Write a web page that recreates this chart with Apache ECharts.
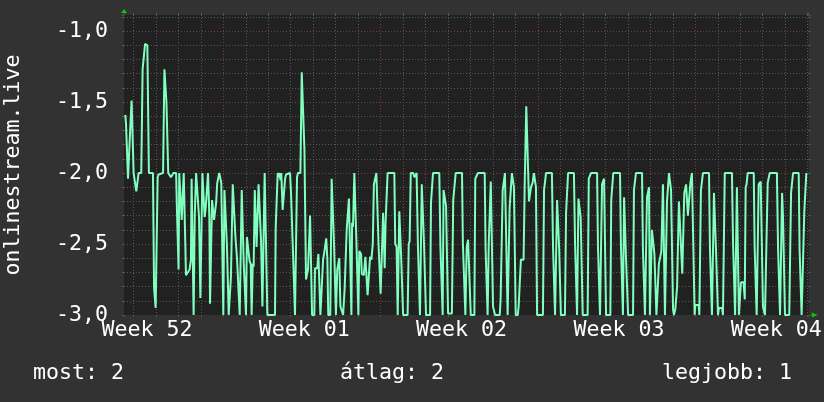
<!DOCTYPE html>
<html><head><meta charset="utf-8">
<script src="https://cdn.jsdelivr.net/npm/echarts@6/dist/echarts.min.js"></script>
<style>html,body{margin:0;padding:0;background:#323232;}#c{width:824px;height:402px;}</style>
</head><body><div id="c"></div>
<script>
// ---- data (day offset from start of Week 01, value) ----
const weekLabels = ['Week 52', 'Week 01', 'Week 02', 'Week 03', 'Week 04'];
const weekLabelDays = [-3.4, 3.6, 10.6, 17.6, 24.6];
const axisTitle = 'onlinestream.live';
const statNames = ['most', 'átlag', 'legjobb'];
const statValues = [2, 2, 1];

const week52 = [[-4.36,-1.59],[-4.33,-1.65],[-4.27,-1.66],[-4.24,-2.04],[-4.18,-2.04],[-4.15,-1.72],[-4.11,-1.72],[-4.08,-1.49],[-4.02,-1.49],[-3.99,-2.00],[-3.91,-2.00],[-3.87,-2.13],[-3.80,-2.13],[-3.77,-2.00],[-3.65,-2.00],[-3.59,-1.27],[-3.53,-1.26],[-3.48,-1.09],[-3.42,-1.09],[-3.38,-1.10],[-3.34,-1.10],[-3.31,-2.00],[-3.13,-2.00],[-3.08,-2.81],[-3.04,-2.82],[-3.01,-2.95],[-2.95,-2.95],[-2.92,-2.03],[-2.88,-2.01],[-2.68,-2.00],[-2.62,-1.27],[-2.56,-1.27],[-2.53,-1.50],[-2.48,-1.50],[-2.45,-2.00],[-2.40,-2.00],[-2.33,-2.03],[-2.28,-2.03],[-2.22,-2.00],[-2.10,-2.00],[-2.06,-2.27],[-2.02,-2.27],[-1.99,-2.68],[-1.96,-2.00],[-1.90,-2.00],[-1.85,-2.33],[-1.79,-2.33],[-1.76,-2.00],[-1.70,-2.00],[-1.66,-2.72],[-1.59,-2.72],[-1.50,-2.68],[-1.44,-2.61],[-1.41,-2.04],[-1.36,-2.04],[-1.32,-3.00],[-1.27,-2.30],[-1.21,-2.00],[-1.13,-2.00],[-1.08,-2.31],[-1.02,-2.88],[-0.96,-2.88],[-0.93,-2.00],[-0.86,-2.00],[-0.83,-2.31],[-0.78,-2.24],[-0.73,-2.24],[-0.68,-2.00],[-0.65,-2.00],[-0.62,-2.31],[-0.59,-2.92],[-0.53,-2.92],[-0.50,-2.19],[-0.46,-2.19],[-0.41,-2.33],[-0.37,-2.33],[-0.32,-2.21],[-0.27,-2.07],[-0.18,-2.00],[-0.09,-2.07],[-0.06,-2.38]];

const week01 = [[0.00,-3.00],[0.05,-2.12],[0.12,-2.12],[0.16,-2.50],[0.21,-2.50],[0.24,-3.00],[0.31,-3.00],[0.34,-2.73],[0.39,-2.73],[0.42,-2.08],[0.49,-2.08],[0.54,-2.45],[0.61,-2.60],[0.68,-2.60],[0.73,-3.00],[0.77,-3.00],[0.82,-2.12],[0.88,-2.12],[0.91,-2.64],[0.97,-2.64],[1.01,-3.00],[1.05,-2.45],[1.13,-2.45],[1.17,-2.62],[1.22,-2.64],[1.26,-3.00],[1.31,-2.64],[1.35,-2.66],[1.40,-2.12],[1.45,-2.12],[1.48,-2.52],[1.53,-2.52],[1.57,-2.08],[1.63,-2.08],[1.68,-2.48],[1.74,-2.94],[1.81,-2.94],[1.84,-2.00],[1.91,-2.00],[1.96,-3.00],[2.30,-3.00],[2.33,-2.39],[2.37,-2.39],[2.42,-2.00],[2.46,-2.03],[2.51,-2.00],[2.54,-2.05],[2.58,-2.00],[2.64,-2.26],[2.70,-2.26],[2.75,-2.04],[2.79,-2.01],[2.83,-2.00],[2.97,-2.00],[3.01,-2.13],[3.06,-2.13],[3.12,-2.65],[3.16,-2.65],[3.19,-3.00],[3.25,-3.00],[3.28,-2.03],[3.32,-2.00],[3.43,-2.00],[3.49,-1.29],[3.56,-1.29],[3.61,-1.84],[3.65,-1.84],[3.68,-2.75],[3.74,-2.75],[3.77,-2.68],[3.81,-2.68],[3.86,-2.30],[3.92,-2.30],[3.95,-3.00],[4.05,-3.00],[4.08,-2.67],[4.18,-2.67],[4.23,-2.57],[4.29,-2.57],[4.32,-3.00],[4.39,-3.00],[4.44,-2.61],[4.51,-2.54],[4.58,-2.46],[4.63,-2.61],[4.67,-3.00],[4.76,-3.00],[4.82,-2.04],[4.88,-2.04],[4.93,-2.52],[4.97,-2.52],[5.01,-3.00],[5.07,-2.68],[5.12,-2.68],[5.16,-2.60],[5.21,-2.94],[5.28,-2.95],[5.33,-3.00],[5.40,-2.81],[5.46,-2.80],[5.49,-2.40],[5.55,-2.40],[5.59,-2.18],[5.67,-2.18],[5.70,-3.00],[5.73,-2.35],[5.77,-2.38],[5.83,-2.00],[5.87,-2.00],[5.92,-2.47],[5.96,-2.48],[6.01,-3.00],[6.05,-2.55],[6.13,-2.57],[6.16,-2.71],[6.25,-2.72],[6.29,-2.71],[6.32,-2.59],[6.38,-2.59],[6.42,-2.86],[6.48,-2.86],[6.53,-2.59],[6.59,-2.61],[6.65,-2.50],[6.70,-2.08],[6.76,-2.07],[6.81,-2.00],[6.87,-2.00],[6.91,-2.52],[6.96,-2.52]];

const week02 = [[7.00,-2.85],[7.06,-2.85],[7.11,-2.28],[7.15,-2.28],[7.18,-2.67],[7.22,-2.35],[7.27,-2.35],[7.31,-2.00],[7.61,-2.00],[7.65,-2.50],[7.71,-2.52],[7.76,-3.00],[7.80,-3.00],[7.83,-2.27],[7.88,-2.27],[7.91,-2.58],[7.95,-2.58],[8.00,-3.00],[8.20,-3.00],[8.25,-2.50],[8.29,-2.48],[8.34,-2.00],[8.45,-2.00],[8.50,-2.03],[8.56,-2.03],[8.60,-2.00],[8.63,-2.00],[8.66,-2.52],[8.71,-2.52],[8.75,-3.00],[8.80,-3.00],[8.83,-2.08],[8.88,-2.08],[8.93,-2.50],[8.97,-2.50],[9.02,-3.00],[9.20,-3.00],[9.24,-2.21],[9.29,-2.21],[9.33,-2.00],[9.61,-2.00],[9.66,-2.52],[9.72,-2.52],[9.76,-3.00],[9.80,-2.12],[9.86,-2.12],[9.91,-2.23],[9.95,-2.23],[10.00,-2.99],[10.17,-2.99],[10.23,-2.19],[10.28,-2.19],[10.34,-2.00],[10.62,-2.00],[10.66,-2.50],[10.72,-2.50],[10.77,-3.00],[10.83,-2.52],[10.89,-2.47],[10.96,-2.47],[11.01,-3.00],[11.17,-3.00],[11.21,-2.04],[11.27,-2.04],[11.33,-2.00],[11.63,-2.00],[11.67,-2.54],[11.72,-2.54],[11.76,-3.00],[11.81,-2.50],[11.85,-2.50],[11.90,-2.06],[11.95,-2.06],[12.00,-2.94],[12.04,-2.94],[12.09,-3.00],[12.30,-3.00],[12.34,-2.88],[12.38,-2.88],[12.43,-2.12],[12.49,-2.12],[12.53,-2.00],[12.61,-2.00],[12.65,-3.00],[12.70,-3.00],[12.74,-2.24],[12.80,-2.24],[12.84,-2.00],[12.89,-2.00],[12.93,-2.10],[12.96,-2.10],[13.01,-3.00],[13.10,-3.00],[13.14,-2.94],[13.24,-2.61],[13.36,-2.61],[13.41,-2.08],[13.45,-2.08],[13.48,-1.53],[13.56,-1.53],[13.60,-2.20],[13.65,-2.20],[13.69,-2.10],[13.76,-2.07],[13.82,-2.00],[13.87,-2.00],[13.91,-2.10],[13.96,-3.00]];

const week03 = [[14.22,-3.00],[14.27,-2.12],[14.31,-2.12],[14.36,-2.00],[14.62,-2.00],[14.67,-2.52],[14.71,-2.52],[14.76,-3.00],[14.80,-3.00],[14.85,-2.19],[14.89,-2.19],[14.94,-2.52],[14.98,-2.52],[15.02,-3.00],[15.20,-3.00],[15.25,-2.28],[15.29,-2.28],[15.34,-2.00],[15.60,-2.00],[15.65,-2.50],[15.69,-2.50],[15.74,-3.00],[15.80,-2.18],[15.85,-2.18],[15.90,-2.31],[15.94,-2.31],[15.99,-3.00],[16.21,-3.00],[16.26,-2.04],[16.30,-2.04],[16.36,-2.00],[16.63,-2.00],[16.67,-2.52],[16.71,-2.52],[16.76,-3.00],[16.80,-3.00],[16.85,-2.08],[16.89,-2.08],[16.94,-2.04],[16.98,-2.04],[17.03,-3.00],[17.22,-3.00],[17.26,-2.19],[17.31,-2.19],[17.35,-2.00],[17.65,-2.00],[17.69,-2.50],[17.74,-2.50],[17.78,-3.00],[17.83,-2.17],[17.87,-2.17],[17.92,-2.61],[17.96,-2.61],[18.01,-3.00],[18.23,-3.00],[18.27,-2.12],[18.32,-2.12],[18.36,-2.00],[18.63,-2.00],[18.67,-2.54],[18.72,-2.54],[18.76,-3.00],[18.81,-3.00],[18.85,-2.17],[18.90,-2.17],[18.94,-2.10],[18.98,-3.00],[19.03,-3.00],[19.07,-2.40],[19.13,-2.40],[19.18,-2.57],[19.22,-2.57],[19.27,-3.00],[19.34,-3.00],[19.38,-2.64],[19.43,-2.64],[19.49,-2.55],[19.56,-2.08],[19.61,-2.08],[19.65,-3.00],[19.70,-3.00],[19.74,-2.20],[19.79,-2.19],[19.83,-2.00],[19.87,-2.00],[19.92,-2.12],[19.96,-2.12],[20.01,-2.96],[20.05,-3.00],[20.11,-2.96],[20.19,-2.80],[20.23,-2.79],[20.27,-2.20],[20.35,-2.20],[20.42,-2.71],[20.47,-2.71],[20.51,-2.14],[20.59,-2.08],[20.65,-2.08],[20.67,-2.30],[20.73,-2.30],[20.78,-2.07],[20.85,-2.00],[20.90,-2.00],[20.97,-3.00]];

const week04 = [[21.00,-2.93],[21.15,-2.93],[21.18,-3.00],[21.21,-3.00],[21.25,-2.12],[21.30,-2.12],[21.34,-2.00],[21.61,-2.00],[21.65,-2.52],[21.70,-2.52],[21.74,-3.00],[21.79,-3.00],[21.83,-2.14],[21.88,-2.14],[21.92,-2.54],[21.96,-2.54],[22.01,-3.00],[22.05,-2.95],[22.19,-2.95],[22.23,-3.00],[22.26,-3.00],[22.31,-2.00],[22.63,-2.00],[22.68,-2.50],[22.72,-2.50],[22.77,-3.00],[22.81,-3.00],[22.85,-2.10],[22.90,-2.10],[22.94,-3.00],[22.99,-3.00],[23.03,-2.77],[23.15,-2.77],[23.20,-2.89],[23.24,-2.10],[23.28,-2.08],[23.33,-2.00],[23.60,-2.00],[23.64,-2.52],[23.69,-2.52],[23.73,-3.00],[23.77,-3.00],[23.82,-2.08],[23.86,-2.08],[23.91,-2.06],[23.97,-2.06],[24.01,-2.94],[24.06,-2.94],[24.10,-3.00],[24.17,-3.00],[24.22,-2.07],[24.26,-2.07],[24.31,-2.00],[24.63,-2.00],[24.68,-2.52],[24.72,-2.52],[24.77,-3.00],[24.81,-3.00],[24.86,-2.14],[24.90,-2.30],[24.95,-2.30],[24.99,-3.00],[25.18,-3.00],[25.26,-2.14],[25.30,-2.14],[25.35,-2.00],[25.60,-2.00],[25.64,-2.54],[25.69,-2.54],[25.73,-3.00],[25.81,-3.00],[25.85,-2.27],[25.90,-2.26],[25.94,-2.00],[25.97,-2.00]];

// ---- chart ----
const readings = [].concat(week52, week01, week02, week03, week04);
const DAY_MIN = -4.418, DAY_MAX = 26.045, V_MIN = -3, V_MAX = -0.887;
const FONT = 'DejaVu Sans Mono';
const FS = 21.6;
const GRID_GREY = '#585858', GRID_RED = '#7a3c3c', ARROW = '#00cc00';

function hiddenX(extra) {
  return Object.assign({
    type: 'value', gridIndex: 0, min: DAY_MIN, max: DAY_MAX,
    axisLine: { show: false, onZero: false }, axisTick: { show: false },
    axisLabel: { show: false }, splitLine: { show: false }
  }, extra);
}
function hiddenY(extra) {
  return Object.assign({
    type: 'value', gridIndex: 0, min: V_MIN, max: V_MAX,
    axisLine: { show: false, onZero: false }, axisTick: { show: false },
    axisLabel: { show: false }, splitLine: { show: false }
  }, extra);
}

const chart = echarts.init(document.getElementById('c'), null, { renderer: 'canvas' });
chart.setOption({
  animation: false,
  backgroundColor: '#323232',
  textStyle: { fontFamily: FONT },
  grid: { left: 124, right: 15.3, top: 15, bottom: 87, containLabel: false, outerBoundsMode: 'none',
    show: true, backgroundColor: '#212121', borderWidth: 0 },
  title: statNames.map((n, i) => ({
    text: n + ': ' + statValues[i],
    left: [28, 335, 657][i], top: 357,
    textStyle: { color: '#ffffff', fontFamily: FONT, fontSize: FS, fontWeight: 'normal' }
  })),
  xAxis: [
    hiddenX({ position: 'bottom', minInterval: 1, maxInterval: 1,
      axisTick: { show: true, length: 2, lineStyle: { color: GRID_GREY } },
      splitLine: { show: true, showMinLine: false, showMaxLine: false, lineStyle: { color: GRID_GREY, type: [1, 2], width: 1 } } }),
    hiddenX({ position: 'top', minInterval: 1, maxInterval: 1,
      axisTick: { show: true, length: 2, lineStyle: { color: GRID_GREY } } }),
    hiddenX({ position: 'bottom', minInterval: 7, maxInterval: 7,
      axisLine: { show: true, onZero: false, lineStyle: { color: ARROW, width: 0 },
        symbol: ['none', 'triangle'], symbolSize: [5, 6], symbolOffset: [0, 6] },
      axisTick: { show: true, length: 2, lineStyle: { color: GRID_RED } },
      splitLine: { show: true, showMinLine: false, showMaxLine: false, lineStyle: { color: GRID_RED, type: [1, 2], width: 1 } } }),
    hiddenX({ position: 'bottom',
      axisLabel: { show: true, customValues: weekLabelDays, margin: 4, color: '#ffffff', fontFamily: FONT, fontSize: FS,
        formatter: v => { const k = weekLabelDays.findIndex(d => Math.abs(d - v) < 1e-6); return k >= 0 ? weekLabels[k] : ''; } } })
  ],
  yAxis: [
    hiddenY({ position: 'left', interval: 0.1,
      axisTick: { show: true, length: 2, lineStyle: { color: GRID_GREY } },
      splitLine: { show: true, showMinLine: false, showMaxLine: false, lineStyle: { color: GRID_GREY, type: [1, 2], width: 1 } } }),
    hiddenY({ position: 'left', interval: 0.5,
      name: axisTitle, nameLocation: 'middle', nameGap: 100,
      nameTextStyle: { color: '#ffffff', fontFamily: FONT, fontSize: FS },
      axisLine: { show: true, onZero: false, lineStyle: { color: ARROW, width: 0 },
        symbol: ['none', 'triangle'], symbolSize: [6, 4], symbolOffset: [0, 4] },
      axisTick: { show: true, length: 2, lineStyle: { color: GRID_RED } },
      axisLabel: { show: true, margin: 16, color: '#ffffff', fontFamily: FONT, fontSize: FS, showMaxLabel: false,
        formatter: v => (Math.abs(v * 2 - Math.round(v * 2)) < 1e-6 ? v.toFixed(1).replace('.', ',') : '') },
      splitLine: { show: true, showMinLine: false, showMaxLine: false, lineStyle: { color: GRID_RED, type: [1, 2], width: 1 } } }),
    hiddenY({ position: 'right', interval: 0.1,
      axisTick: { show: true, length: 2, lineStyle: { color: GRID_GREY } } })
  ],
  series: [{
    type: 'line', xAxisIndex: 0, yAxisIndex: 0,
    data: readings, showSymbol: false, symbol: 'none', clip: true, z: 5,
    lineStyle: { color: '#80ffbf', width: 2 }
  }]
});
</script></body></html>
